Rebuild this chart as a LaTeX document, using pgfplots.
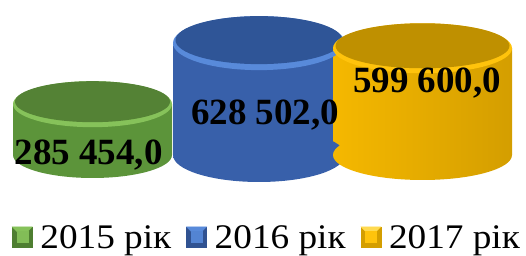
\documentclass[border=0pt]{standalone}
\usepackage{fontspec}
\setmainfont{Liberation Serif}
\newfontfamily\legfont[FakeStretch=1.08]{Liberation Serif}
\usepackage{pgfplots}
\pgfplotsset{compat=1.18}
\usetikzlibrary{shapes.geometric}
\definecolor{gEdge}{RGB}{92,148,58}
\definecolor{gMid}{RGB}{134,194,90}
\definecolor{gTop}{RGB}{84,130,53}
\definecolor{gRim}{RGB}{158,212,112}
\definecolor{bEdge}{RGB}{56,96,170}
\definecolor{bMid}{RGB}{88,138,218}
\definecolor{bTop}{RGB}{47,85,151}
\definecolor{bRim}{RGB}{110,160,232}
\definecolor{yEdgeL}{RGB}{245,184,0}
\definecolor{yEdge}{RGB}{212,158,0}
\definecolor{yMid}{RGB}{255,195,12}
\definecolor{yTop}{RGB}{191,144,0}
\definecolor{yRim}{RGB}{255,218,80}
\pgfplotsset{
  ell/.style 2 args={only marks, mark=none, forget plot, nodes near coords={},
    nodes near coords style={ellipse, inner sep=0pt, minimum width=#1pt, minimum height=#2pt, anchor=center, draw=none}},
  legsq/.style n args={3}{legend image code/.code={%
    \fill[#1] (0pt,-6pt) rectangle (20pt,14pt);
    \fill[#2] (0pt,14pt) -- (20pt,14pt) -- (14pt,8pt) -- (6pt,8pt) -- cycle;
    \fill[#3] (4.5pt,-1.5pt) rectangle (15.5pt,9.5pt);}},
}
\begin{document}
\begin{tikzpicture}
\begin{axis}[
  scale only axis, width=526pt, height=256pt,
  xmin=0, xmax=526, ymin=-567416, ymax=870787,
  hide axis, clip=false,
  legend columns=3,
  legend style={at={(rel axis cs:0.5,0)}, anchor=south, xshift=3pt, draw=none, fill=none,
    inner sep=0pt, outer sep=0pt, font=\legfont\fontsize{34.5}{36}\selectfont,
    nodes={inner sep=0pt, text depth=7.5pt},
    /tikz/every odd column/.append style={column sep=8pt},
    /tikz/every even column/.append style={column sep=15pt}},
  /pgf/number format/.cd, fixed, fixed zerofill, precision=1, use comma, 1000 sep={\ }, assume math mode=true
]
\addlegendimage{legsq={gEdge!85!black}{gMid}{gMid!90!gEdge}}
\addlegendentry{2015 рік}
\addlegendimage{legsq={bEdge!85!black}{bMid}{bMid!85!bEdge}}
\addlegendentry{2016 рік}
\addlegendimage{legsq={yEdge}{yRim}{yMid}}
\addlegendentry{2017 рік}

% 2015 (green)
\addplot[ell={159}{46}, nodes near coords style={left color=gEdge, middle color=gMid, right color=gEdge}] coordinates {(92.5,0)};
\addplot[ybar, bar width=159, bar shift=0pt, draw=none, left color=gEdge, middle color=gMid, right color=gEdge, forget plot] coordinates {(92.5,285454)};
\addplot[ell={159}{46}, nodes near coords style={left color=gMid, middle color=gRim, right color=gMid}] coordinates {(92.5,285454)};
\addplot[ell={155}{41}, nodes near coords style={fill=gTop, yshift=2.5pt}] coordinates {(92.5,285454)};

% 2016 (blue)
\addplot[ell={172}{54}, nodes near coords style={left color=bEdge, middle color=bMid, right color=bEdge}] coordinates {(259,0)};
\addplot[ybar, bar width=172, bar shift=0pt, draw=none, left color=bEdge, middle color=bMid, right color=bEdge, forget plot] coordinates {(259,628502)};
\addplot[ell={172}{54}, nodes near coords style={left color=bMid, middle color=bRim, right color=bMid}] coordinates {(259,628502)};
\addplot[ell={167}{48}, nodes near coords style={fill=bTop, yshift=3pt}] coordinates {(259,628502)};

% 2017 (gold)
\addplot[ell={179}{50}, nodes near coords style={left color=yEdgeL, middle color=yMid, right color=yEdge}] coordinates {(422.5,0)};
\addplot[ybar, bar width=179, bar shift=0pt, draw=none, left color=yEdgeL, middle color=yMid, right color=yEdge, forget plot] coordinates {(422.5,599600)};
\addplot[ell={179}{50}, nodes near coords style={left color=yMid, middle color=yRim, right color=yMid}] coordinates {(422.5,599600)};
\addplot[ell={174}{45}, nodes near coords style={fill=yTop, yshift=2.5pt}] coordinates {(422.5,599600)};

% value labels
\addplot[only marks, mark=none, forget plot, point meta=explicit, nodes near coords,
  nodes near coords style={anchor=base, inner sep=0pt, text=black, font=\bfseries\fontsize{37}{40}\selectfont}]
  coordinates {(88.5,-56180) [285454] (265,168539) [628502] (427,348315) [599600]};
\end{axis}
\pgfresetboundingbox
\path[use as bounding box] (current axis.south west) rectangle (current axis.north east);
\end{tikzpicture}
\end{document}
